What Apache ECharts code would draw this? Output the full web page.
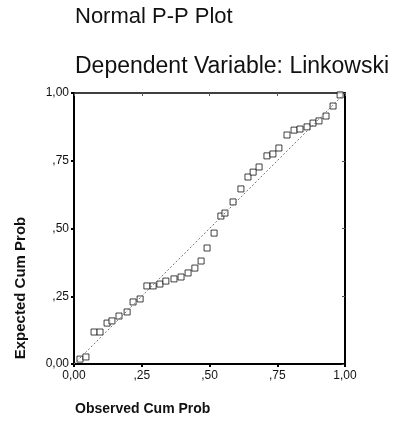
<!DOCTYPE html>
<html>
<head>
<meta charset="utf-8">
<style>html,body{margin:0;padding:0;background:#fff}#c{width:398px;height:424px}</style>
<script src="https://cdn.jsdelivr.net/npm/echarts@6/dist/echarts.min.js"></script>
</head>
<body>
<div id="c"></div>
<script>
var observed = [0.022,0.044,0.074,0.096,0.122,0.140,0.166,0.196,0.218,0.244,0.269,0.292,0.317,0.339,0.369,0.395,0.421,0.446,0.469,0.491,0.517,0.542,0.557,0.587,0.616,0.642,0.661,0.683,0.712,0.734,0.756,0.786,0.812,0.834,0.860,0.882,0.904,0.930,0.956,0.982];
var expected = [0.018,0.026,0.118,0.118,0.151,0.159,0.177,0.192,0.229,0.240,0.288,0.288,0.295,0.306,0.314,0.321,0.336,0.354,0.380,0.428,0.483,0.546,0.557,0.598,0.646,0.690,0.708,0.727,0.768,0.775,0.797,0.845,0.863,0.867,0.875,0.889,0.897,0.915,0.952,0.993];
var refLine = [[0,0],[1,1]];
var tickLabels = {0:'0,00',0.25:',25',0.5:',50',0.75:',75',1:'1,00'};
var titleText = 'Normal P-P Plot';
var subtitleText = 'Dependent Variable: Linkowski';
var xName = 'Observed Cum Prob';
var yName = 'Expected Cum Prob';

var pts = observed.map(function(x,i){return [x, expected[i]];});
var fmt = function(v){ return tickLabels[v] !== undefined ? tickLabels[v] : ''; };
var font = 'Liberation Sans, Arial, sans-serif';

var chart = echarts.init(document.getElementById('c'));
chart.setOption({
  animation:false,
  backgroundColor:'#fff',
  grid:{left:74, top:93, width:271, height:271},
  xAxis:[{
    type:'value', min:0, max:1, interval:0.25, position:'bottom',
    axisLine:{onZero:false, lineStyle:{color:'#000', width:2}},
    axisTick:{show:true, length:3, lineStyle:{color:'#000', width:2}},
    axisLabel:{formatter:fmt, color:'#111', fontSize:12, fontFamily:font, margin:6},
    splitLine:{show:false}
  },{
    type:'value', min:0, max:1, interval:0.25, position:'top',
    axisLine:{show:true, onZero:false, lineStyle:{color:'#000', width:1.5}},
    axisTick:{show:true, inside:true, length:3, lineStyle:{color:'#555', width:1}},
    axisLabel:{show:false}, splitLine:{show:false}
  }],
  yAxis:[{
    type:'value', min:0, max:1, interval:0.25, position:'left',
    axisLine:{onZero:false, lineStyle:{color:'#000', width:2}},
    axisTick:{show:true, length:3, lineStyle:{color:'#000', width:2}},
    axisLabel:{formatter:fmt, color:'#111', fontSize:12, fontFamily:font, margin:5},
    splitLine:{show:false}
  },{
    type:'value', min:0, max:1, interval:0.25, position:'right',
    axisLine:{show:true, onZero:false, lineStyle:{color:'#000', width:2}},
    axisTick:{show:true, inside:true, length:3, lineStyle:{color:'#555', width:1}},
    axisLabel:{show:false}, splitLine:{show:false}
  }],
  series:[{
    type:'line', data:refLine, symbol:'none', silent:true,
    lineStyle:{color:'#777', width:1, type:[2,2]}
  },{
    type:'scatter', data:pts, symbol:'rect', symbolSize:6,
    itemStyle:{color:'#fff', borderColor:'#111', borderWidth:1}
  }],
  graphic:[
    {type:'text', left:75, top:6, style:{text:titleText, font:'22px '+font, fill:'#111'}},
    {type:'text', left:75, top:55, style:{text:subtitleText, font:'23px '+font, fill:'#111'}},
    {type:'text', left:75, top:402, style:{text:xName, font:'bold 14px '+font, fill:'#111'}},
    {type:'text', x:13, y:288, rotation:Math.PI/2, style:{text:yName, font:'bold 15px '+font, fill:'#111', align:'center', verticalAlign:'top'}}
  ]
});
</script>
</body>
</html>
